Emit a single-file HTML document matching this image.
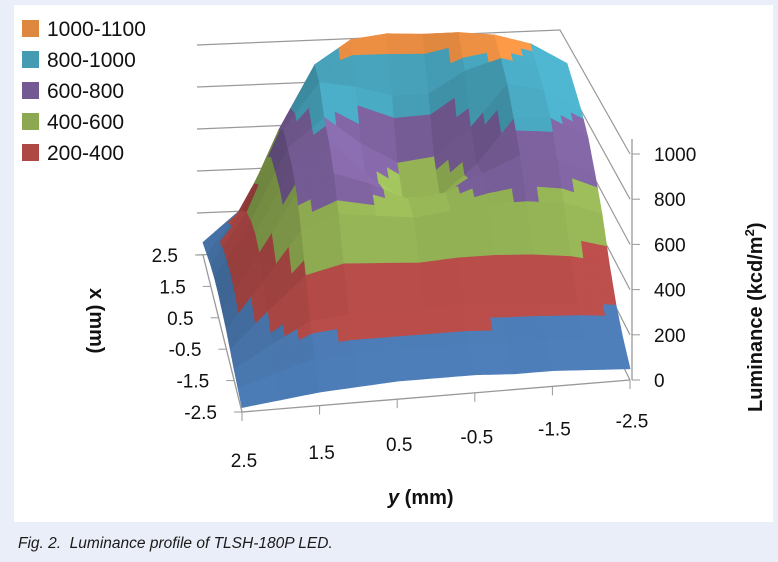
<!DOCTYPE html>
<html><head><meta charset="utf-8"><style>
body{margin:0;width:778px;height:562px;background:#eaeef8;font-family:"Liberation Sans",sans-serif;overflow:hidden;position:relative}
#panel{position:absolute;left:14px;top:5px;width:759px;height:517px;background:#fff}
svg{position:absolute;left:0;top:0}
.cap{position:absolute;left:18px;top:535px;font-style:italic;font-size:15.5px;color:#1a1a1a}
</style></head><body>
<div id="panel"></div>
<svg id="chart" width="778" height="562" font-family="Liberation Sans, sans-serif"></svg>
<div class="cap">Fig. 2.&nbsp; Luminance profile of TLSH-180P LED.</div>
<script>
// x rows (back to front), y columns (left to right)
const xVals=[2.5,2,1.5,1,0.5,0,-0.5,-1,-1.5,-2,-2.5];
const yVals=[2.5,2,1.5,1,0.5,0,-0.5,-1,-1.5,-2,-2.5];
const zRow0=[60,200,500,800,900,950,950,950,930,900,850];
const zRow1=[80,280,650,950,1060,1080,1070,1070,1050,1000,900];
const zRow2=[100,340,720,930,900,850,850,950,1000,950,850];
const zRow3=[110,370,700,830,700,600,620,750,940,900,800];
const zRow4=[110,380,680,780,620,500,500,640,840,830,730];
const zRow5=[100,360,620,700,640,560,580,660,730,700,620];
const zRow6=[90,300,520,580,560,540,560,580,580,560,500];
const zRow7=[70,230,380,420,410,400,410,410,400,380,340];
const zRow8=[50,150,240,260,260,260,260,250,240,230,210];
const zRow9=[35,90,140,150,150,150,150,140,140,130,120];
const zRow10=[20,40,60,70,80,80,80,70,70,60,50];
const xTickLabels=["2.5","1.5","0.5","-0.5","-1.5","-2.5"];
const yTickLabels=["2.5","1.5","0.5","-0.5","-1.5","-2.5"];
const zTickLabels=[0,200,400,600,800,1000];
const bandLimits=[200,400,600,800,1000,1100];
const bandLabels=["200-400","400-600","600-800","800-1000","1000-1100"];
const Z=[zRow0,zRow1,zRow2,zRow3,zRow4,zRow5,zRow6,zRow7,zRow8,zRow9,zRow10];
const bandColors=[[79,129,189],[192,80,77],[155,187,89],[128,100,162],[75,172,198],[247,150,70]];

const svg=document.getElementById('chart');const NS='http://www.w3.org/2000/svg';
function mk(t,a,p){const e=document.createElementNS(NS,t);for(const k in a)e.setAttribute(k,a[k]);(p||svg).appendChild(e);return e;}
const BL=[203,255],BR=[560,240],FL=[242,412],FR=[630,380];
function proj(x,y,z){const t=(2.5-x)/5,u=(2.5-y)/5;
 const lx=BL[0]+(FL[0]-BL[0])*t,ly=BL[1]+(FL[1]-BL[1])*t,rx=BR[0]+(FR[0]-BR[0])*t,ry=BR[1]+(FR[1]-BR[1])*t;
 const px=lx+(rx-lx)*u,py=ly+(ry-ly)*u;const s=0.21+0.016*t;return [px,py-z*s];}
const gAx=mk('g',{});
zTickLabels.forEach(v=>{
 const a=proj(2.5,2.5,v),b=proj(2.5,-2.5,v),c=proj(-2.5,-2.5,v);
 const l=mk('polyline',{points:`${a[0]-6},${a[1]} ${b[0]},${b[1]} ${c[0]},${c[1]}`,fill:'none',stroke:'#999','stroke-width':1.2},gAx);
 
});
const gS=mk('g',{});
const S=3;
function zAt(i,j,a,b){const z00=Z[i][j],z01=Z[i][j+1],z10=Z[i+1][j],z11=Z[i+1][j+1];return z00*(1-a)*(1-b)+z01*(1-a)*b+z10*a*(1-b)+z11*a*b;}
for(let i=0;i<xVals.length-1;i++){for(let j=0;j<yVals.length-1;j++){
 const gu=(Z[i][j+1]+Z[i+1][j+1]-Z[i][j]-Z[i+1][j])/2, gt=(Z[i+1][j]+Z[i+1][j+1]-Z[i][j]-Z[i][j+1])/2;
 let f=1.0-gu*0.0008+gt*0.0003; f=Math.max(0.45,Math.min(1.15,f));
 for(let a=0;a<S;a++)for(let b=0;b<S;b++){
  const a0=a/S,a1=(a+1)/S,b0=b/S,b1=(b+1)/S;
  const pts=[[a0,b0],[a0,b1],[a1,b1],[a1,b0]].map(([p,q])=>{const x=xVals[i]+(xVals[i+1]-xVals[i])*p,y=yVals[j]+(yVals[j+1]-yVals[j])*q;return proj(x,y,zAt(i,j,p,q));});
  const zm=zAt(i,j,(a0+a1)/2,(b0+b1)/2);let k=0;while(k<5&&zm>=bandLimits[k])k++;
  const c=bandColors[k].map(v=>Math.round(Math.min(255,v*f)));
  const col=`rgb(${c})`;
  const p=mk('polygon',{points:pts.map(q=>q.join(',')).join(' '),fill:col,stroke:col,'stroke-width':0.8},gS);
  
 }}}
const fa=proj(2.5,2.5,0),fb=proj(-2.5,2.5,0),fc=proj(-2.5,-2.5,0),ft=proj(-2.5,-2.5,1000);
mk('polyline',{points:`${fa[0]},${fa[1]} ${fb[0]},${fb[1]} ${fc[0]},${fc[1]}`,fill:'none',stroke:'#999','stroke-width':1.3},gAx);
mk('line',{x1:fc[0]+2,y1:fc[1],x2:ft[0]+2,y2:ft[1]-15,stroke:'#999','stroke-width':1.3},gAx);
xTickLabels.forEach((s,i)=>{const p=proj(+s,2.5,0);mk('line',{x1:p[0]-8,y1:p[1],x2:p[0],y2:p[1],stroke:'#999'},gAx);
 const t=mk('text',{x:p[0]-25,y:p[1]+7,'text-anchor':'end','font-size':19,fill:'#111'});t.textContent=s;
 });
yTickLabels.forEach((s,i)=>{const p=proj(-2.5,+s,0);mk('line',{x1:p[0],y1:p[1],x2:p[0],y2:p[1]+9,stroke:'#999'},gAx);
 const t=mk('text',{x:p[0]+2,y:p[1]+55-i*1.5,'text-anchor':'middle','font-size':19,fill:'#111'});t.textContent=s;
 });
zTickLabels.forEach(v=>{const p=proj(-2.5,-2.5,v);mk('line',{x1:p[0]+2,y1:p[1],x2:p[0]+10,y2:p[1],stroke:'#999'},gAx);
 const t=mk('text',{x:p[0]+24,y:p[1]+7,'font-size':19,fill:'#111'});t.textContent=v;
 });
let t=mk('text',{x:0,y:0,'font-size':20,'font-weight':'bold',fill:'#111',transform:'translate(90,288) rotate(90)'});t.textContent='x (mm)';

t=mk('text',{x:0,y:0,'font-size':20,'font-weight':'bold',fill:'#111',transform:'translate(762,412) rotate(-90)'});t.innerHTML='Luminance (kcd/m<tspan dy="-8" font-size="13">2</tspan><tspan dy="8">)</tspan>';

t=mk('text',{x:388,y:504,'font-size':20,'font-weight':'bold',fill:'#111'});t.innerHTML='<tspan font-style="italic">y</tspan> (mm)';

const gL=mk('g',{});
for(let n=0;n<5;n++){const k=4-n;const y=20+n*31;
 const r=mk('rect',{x:22,y:y,width:17,height:17,fill:`rgb(${bandColors[k+1].map(v=>Math.round(v*0.9))})`},gL);
 
 const tx=mk('text',{x:47,y:y+16,'font-size':21,fill:'#111'},gL);tx.textContent=bandLabels[k];
 }
</script>
</body></html>
